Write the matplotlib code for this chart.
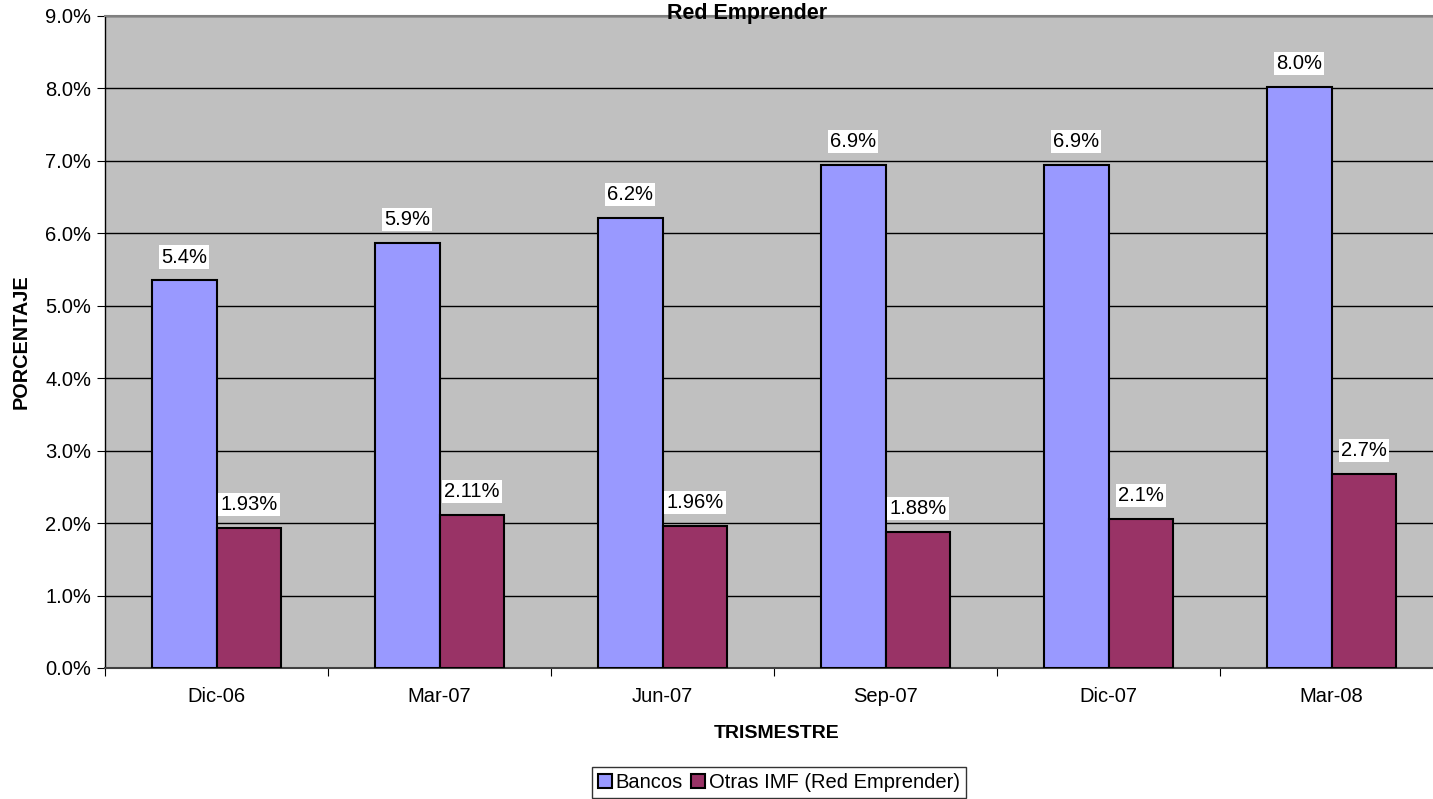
import numpy as np
import matplotlib.pyplot as plt
from matplotlib.ticker import FuncFormatter

plt.rcParams['font.family'] = ['Liberation Sans', 'DejaVu Sans']

trimestres = ["Dic-06", "Mar-07", "Jun-07", "Sep-07", "Dic-07", "Mar-08"]
bancos = [5.35, 5.87, 6.21, 6.94, 6.94, 8.02]
otras = [1.93, 2.11, 1.96, 1.88, 2.06, 2.68]
bancos_labels = ["5.4%", "5.9%", "6.2%", "6.9%", "6.9%", "8.0%"]
otras_labels = ["1.93%", "2.11%", "1.96%", "1.88%", "2.1%", "2.7%"]

fig = plt.figure(figsize=(14.33, 7.99), dpi=100)
# plot area runs a little past the right edge, as in the original
ax = fig.add_axes([0.0733, 0.164, 0.9337, 0.816])

x = np.arange(len(trimestres))
w = 0.29
b1 = ax.bar(x - w / 2, bancos, w, color="#9999FF", edgecolor="black", linewidth=1.5,
            label="Bancos", zorder=3)
b2 = ax.bar(x + w / 2, otras, w, color="#993366", edgecolor="black", linewidth=1.5,
            label="Otras IMF (Red Emprender)", zorder=3)

box = dict(facecolor="white", edgecolor="none", pad=1.5)
for bars, labels in [(b1, bancos_labels), (b2, otras_labels)]:
    for rect, lab in zip(bars, labels):
        ax.annotate(lab, (rect.get_x() + rect.get_width() / 2, rect.get_height()),
                    xytext=(0, 10), textcoords="offset points", ha="center", va="bottom",
                    fontsize=14.5, bbox=box, zorder=4)

ax.set_facecolor("#C0C0C0")
ax.set_xlim(-0.5, len(trimestres) - 0.5)
ax.set_ylim(0, 9)
ax.set_yticks(np.arange(0, 9.5, 1))
ax.yaxis.set_major_formatter(FuncFormatter(lambda v, p: f"{v:.1f}%"))
ax.grid(axis="y", color="black", linewidth=1, zorder=1)
ax.set_axisbelow(True)

ax.set_xticks(np.arange(-0.5, len(trimestres), 1))
ax.set_xticklabels([])
ax.set_xticks(x, minor=True)
ax.set_xticklabels(trimestres, minor=True)
ax.tick_params(axis="x", which="minor", length=0, pad=14, labelsize=14.5)
ax.tick_params(axis="x", which="major", length=6, direction="out")
ax.tick_params(axis="y", length=6, labelsize=14.5, pad=4)

for s in ["top", "right"]:
    ax.spines[s].set_color("#808080")
    ax.spines[s].set_linewidth(1.5)
ax.spines["left"].set_linewidth(1)
ax.spines["bottom"].set_linewidth(1.5)
ax.spines["bottom"].set_color("#404040")

ax.set_ylabel("PORCENTAJE", fontsize=14.3, fontweight="bold")
ax.yaxis.set_label_coords(-0.0553, 0.5)
ax.set_xlabel("TRISMESTRE", fontsize=14, fontweight="bold")
ax.xaxis.set_label_coords(0.502, -0.087)
fig.text(0.521, 0.983, "Red Emprender", ha="center", va="center", fontsize=15.5,
         fontweight="bold")

leg = fig.legend(loc="lower center", bbox_to_anchor=(0.5436, -0.011), ncol=2, fontsize=14.5,
                 frameon=True, fancybox=False, edgecolor="black", handlelength=0.7,
                 handleheight=0.7, handletextpad=0.2, columnspacing=0.4,
                 borderpad=0.3)
leg.get_frame().set_linewidth(1)

fig.savefig("out.png", dpi=100)
